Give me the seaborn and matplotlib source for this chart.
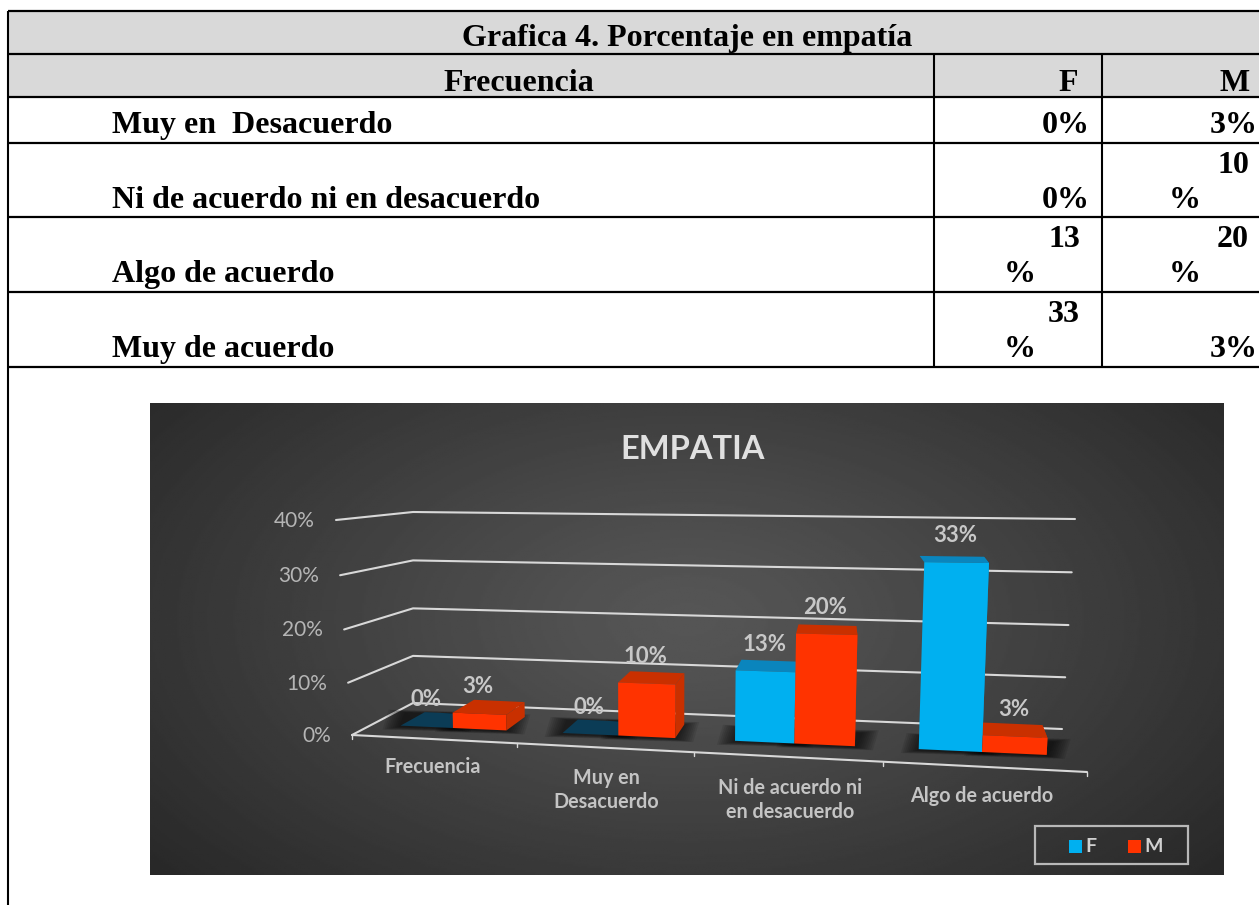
import numpy as np
import pandas as pd
import seaborn as sns
import matplotlib.pyplot as plt
from matplotlib.patches import Polygon, Rectangle
from matplotlib.transforms import Transform

# chart values
categorias = ['Frecuencia', 'Muy en\nDesacuerdo', 'Ni de acuerdo ni\nen desacuerdo', 'Algo de acuerdo']
valores_f = [0, 0, 13, 33]
valores_m = [3, 10, 20, 3]
ticks_y = [0, 10, 20, 30, 40]
colores = {'F': '#00b0f0', 'M': '#ff3300'}
colores_top = {'F': '#0a85bd', 'M': '#c93000'}
colores_cero = {'F': '#0b3c56', 'M': '#c93000'}

# table text
titulo = 'Grafica 4. Porcentaje en empatía'
filas = ['Muy en  Desacuerdo', 'Ni de acuerdo ni en desacuerdo', 'Algo de acuerdo', 'Muy de acuerdo']
base_filas = [133, 208, 282, 357]
celdas_f = ['0%', '0%', '13\n%', '33\n%']
celdas_m = ['3%', '10\n%', '20\n%', '3%']

sns.set_theme(style='white')
plt.rcParams['font.family'] = ['Lato', 'DejaVu Sans']
SERIF = 'Liberation Serif'


class Homography(Transform):
    """Maps a flat plane (category, percent) onto picture pixels."""
    input_dims = 2
    output_dims = 2
    is_separable = False
    has_inverse = False

    def __init__(self, src, dst):
        super().__init__()
        a, b = [], []
        for (x, y), (u, v) in zip(src, dst):
            a.append([x, y, 1, 0, 0, 0, -u * x, -u * y])
            a.append([0, 0, 0, x, y, 1, -v * x, -v * y])
            b += [u, v]
        self.m = np.append(np.linalg.solve(np.array(a, float), np.array(b, float)), 1).reshape(3, 3)

    def transform_non_affine(self, values):
        pts = np.asarray(values, float)
        h = np.c_[pts, np.ones(len(pts))] @ self.m.T
        return h[:, :2] / h[:, 2:]


# planes of the fake 3d box, pixel anchors measured on the picture
esq = [(0, 0), (3, 0), (0, 33), (3, 33)]
frente = Homography(esq, [(453, 728), (982, 752), (449, 556), (989, 563)])
esq_caja = [(-0.5, 0), (3.5, 0), (-0.5, 40), (3.5, 40)]
fondo = Homography(esq_caja, [(413, 703), (1062, 729), (413, 512), (1075, 519)])
borde = Homography(esq_caja, [(352, 735), (1087, 772), (336, 520), (1100, 525)])


def atras(p, v):
    # top/side faces: depth offset shrinks towards the vanishing point
    dx = max(0.055 * (840 - p[0]), -5)
    dy = -(13.5 - 0.22 * v)
    return (p[0] + dx, p[1] + dy)


fig = plt.figure(figsize=(12.59, 9.05), dpi=100)
fig.patch.set_facecolor('white')

page = fig.add_axes([0, 0, 1, 1], zorder=1)
ax = fig.add_axes([0, 0, 1, 1], zorder=2)
ax.patch.set_alpha(0)

# ---- table ----
page.add_patch(Rectangle((8, 11), 1251, 86, fc='#d9d9d9', ec='none'))
for y in [11, 54, 97, 143, 217, 292, 367]:
    page.plot([8, 1259], [y, y], color='black', lw=1.6, solid_capstyle='butt')
page.plot([8, 8], [11, 905], color='black', lw=1.5, solid_capstyle='butt')
for x in [934, 1102]:
    page.plot([x, x], [54, 367], color='black', lw=1.5, solid_capstyle='butt')

tabla = dict(family=SERIF, weight='bold', size=23, color='black', va='baseline')
page.text(687, 46, titulo, ha='center', **tabla)
page.text(519, 91, 'Frecuencia', ha='center', **tabla)
page.text(1078, 91, 'F', ha='right', **tabla)
page.text(1250, 91, 'M', ha='right', **tabla)

for nombre, base, f, m in zip(filas, base_filas, celdas_f, celdas_m):
    page.text(112, base, nombre, ha='left', **tabla)
    for celda, derecha, num_der, izquierda in [(f, 1090, 1080, 1004), (m, 1258, 1249, 1169)]:
        if '\n' in celda:
            num, pct = celda.split('\n')
            page.text(num_der, base - 35, num, ha='right', **tabla)
            page.text(izquierda, base, pct, ha='left', **tabla)
        else:
            page.text(derecha, base, celda, ha='right', **tabla)

# ---- chart background ----
xx, yy = np.meshgrid(np.linspace(150, 1224, 540), np.linspace(404, 875, 240))
r = np.sqrt(((xx - 687) / 537) ** 2 + ((yy - 620) / 300) ** 2 + 0.02)
page.imshow(0.355 - 0.15 * r, cmap='gray', vmin=0, vmax=1,
            extent=[150, 1224, 875, 404], aspect='auto', zorder=0)

# ---- gridlines and axis ----
for t in ticks_y:
    a = borde.transform([(-0.5, t)])[0]
    b = fondo.transform([(-0.5, t)])[0]
    c = fondo.transform([(3.5, t)])[0]
    page.plot([a[0], b[0], c[0]], [a[1], b[1], c[1]], color='#d8d8d8', lw=1.5, zorder=1)
    page.text(a[0] - 21, a[1] + 1, f'{t}%', ha='right', va='center', size=15, color='#b5b5b5')

eje = borde.transform([(-0.5, 0), (3.5, 0)])
page.plot(eje[:, 0], eje[:, 1], color='#d8d8d8', lw=1.5, zorder=1)
for i in range(len(categorias) + 1):
    p = borde.transform([(i - 0.5, 0)])[0]
    page.plot([p[0], p[0]], [p[1], p[1] + 4], color='#d8d8d8', lw=1, zorder=1)

pos_cat = [(433, 767), (606, 790), (790, 800), (982, 796)]
for texto, (x, y) in zip(categorias, pos_cat):
    page.text(x, y, texto, ha='center', va='center', size=14.2, weight='bold',
              color='#c4c4c4', linespacing=1.25)

page.text(693, 449, 'EMPATIA', ha='center', va='center', size=23.5, weight='bold', color='#e0e0e0')

# ---- bars ----
datos = pd.DataFrame({
    'categoria': categorias * 2,
    'serie': ['F'] * len(categorias) + ['M'] * len(categorias),
    'valor': valores_f + valores_m,
})
sns.barplot(data=datos, x='categoria', y='valor', hue='serie', palette=colores,
            width=0.66, gap=0, saturation=1, legend=False, ax=ax)

for serie, cont in zip(colores, ax.containers):
    for bar in cont:
        x0, x1, v = bar.get_x(), bar.get_x() + bar.get_width(), bar.get_height()
        bar.set_transform(frente + page.transData)
        bar.set_edgecolor('none')
        (bl, br, tr, tl) = frente.transform([(x0, 0), (x1, 0), (x1, v), (x0, v)])

        # soft shadow on the floor
        for g in range(18, 0, -2):
            page.add_patch(Polygon([(bl[0] - g, bl[1] + 1 + g / 6), (br[0] + g, br[1] + 1 + g / 6),
                                    (br[0] + g + 6, br[1] - 13 - g / 6), (bl[0] - g + 6, bl[1] - 13 - g / 6)],
                                   fc='black', ec='none', alpha=0.09, zorder=2))

        # side and top faces
        page.add_patch(Polygon([br, tr, atras(tr, v), atras(br, 0)], fc=colores_top[serie], ec='none', zorder=3))
        tapa = colores_cero[serie] if v == 0 else colores_top[serie]
        page.add_patch(Polygon([tl, tr, atras(tr, v), atras(tl, v)], fc=tapa, ec='none', zorder=3))

        # value label
        cx, cy = frente.transform([((x0 + x1) / 2, v)])[0]
        page.text(cx - 1, cy - 27, f'{v:.0f}%', ha='center', va='center', size=16,
                  weight='bold', color='#c8c8c8', zorder=4)

# ---- legend ----
page.add_patch(Rectangle((1035, 826), 153, 38, fc='none', ec='#b8b8b8', lw=1.6, zorder=4))
for x, s in [(1069, 'F'), (1128, 'M')]:
    page.add_patch(Rectangle((x, 840), 13, 13, fc=colores[s], ec='none', zorder=4))
    page.text(x + 16, 846, s, ha='left', va='center', size=14, weight='bold', color='#d0d0d0', zorder=4)

ax.axis('off')
page.set_xlim(0, 1259)
page.set_ylim(905, 0)
page.axis('off')

fig.savefig('out.png', dpi=100)
